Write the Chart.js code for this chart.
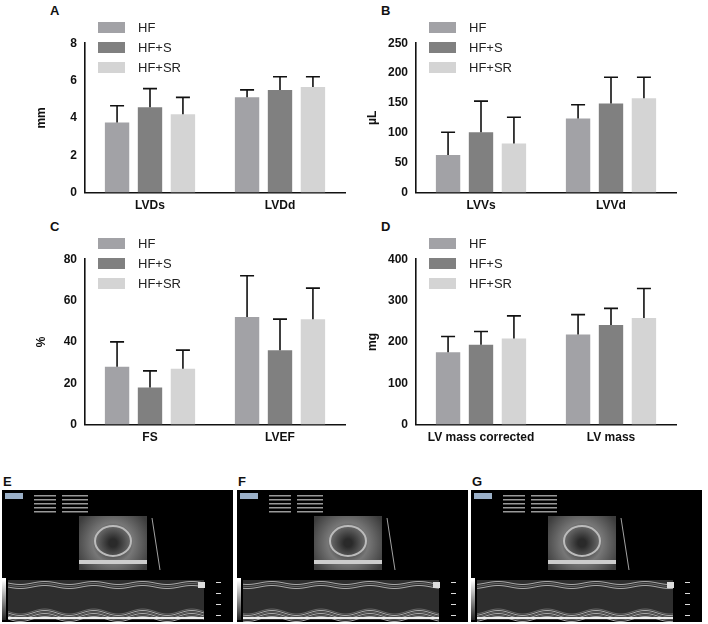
<!DOCTYPE html>
<html lang="en">
<head>
<meta charset="UTF-8" />
<title>Echo figure</title>
<script src="https://cdn.jsdelivr.net/npm/chart.js"></script>
<style>
  *{margin:0;padding:0;box-sizing:border-box}
  body{width:708px;height:624px;background:#fff;position:relative;font-family:Arial,"Liberation Sans",sans-serif;overflow:hidden}
  .panel{position:absolute}
  .tag{position:absolute;font-weight:bold;font-size:13px;color:#111}
  .leg{position:absolute;font-size:13px;color:#222}
  .leg div{display:flex;align-items:center;height:20px}
  .leg span{display:inline-block;width:27px;height:11px;margin-right:13px}
  .us{position:absolute;background:#000}
</style>
</head>
<body>
<div class="tag" style="left:50px;top:3px">A</div>
<div class="tag" style="left:381px;top:3px">B</div>
<div class="tag" style="left:50px;top:219px">C</div>
<div class="tag" style="left:381px;top:219px">D</div>
<div class="tag" style="left:3px;top:474px">E</div>
<div class="tag" style="left:238px;top:474px">F</div>
<div class="tag" style="left:472px;top:474px">G</div>

<div class="panel" style="left:30px;top:33px;width:325px;height:186px"><canvas id="cA"></canvas></div>
<div class="panel" style="left:361px;top:33px;width:325px;height:186px"><canvas id="cB"></canvas></div>
<div class="panel" style="left:30px;top:249px;width:325px;height:202px"><canvas id="cC"></canvas></div>
<div class="panel" style="left:361px;top:249px;width:325px;height:202px"><canvas id="cD"></canvas></div>

<canvas class="us" id="uE" width="231" height="132" style="left:2px;top:490px"></canvas>
<canvas class="us" id="uF" width="231" height="132" style="left:237px;top:490px"></canvas>
<canvas class="us" id="uG" width="231" height="132" style="left:471px;top:490px"></canvas>

<script>
// ---- data ----
const groups = ['HF', 'HF+S', 'HF+SR'];
const colors = ['#a2a2a6', '#808080', '#d4d4d4'];

const catsA = ['LVDs', 'LVDd'];
const meanA = [[3.75, 5.1], [4.57, 5.5], [4.2, 5.65]];
const sdA   = [[0.9, 0.4], [1.0, 0.7], [0.9, 0.55]];

const catsB = ['LVVs', 'LVVd'];
const meanB = [[63, 124], [101, 149], [82, 158]];
const sdB   = [[38, 23], [52, 44], [44, 35]];

const catsC = ['FS', 'LVEF'];
const meanC = [[28, 52], [18, 36], [27, 51]];
const sdC   = [[12, 20], [8, 15], [9, 15]];

const catsD = ['LV mass corrected', 'LV mass'];
const meanD = [[175, 218], [193, 241], [208, 258]];
const sdD   = [[38, 48], [32, 40], [55, 71]];

// error bars (upper only)
const errorBars = {
  id: 'errorBars',
  afterDatasetsDraw(chart) {
    const ctx = chart.ctx, y = chart.scales.y;
    chart.data.datasets.forEach((ds, i) => {
      chart.getDatasetMeta(i).data.forEach((bar, j) => {
        const top = y.getPixelForValue(ds.data[j] + ds.sd[j]);
        ctx.save();
        ctx.strokeStyle = '#111'; ctx.lineWidth = 1.6;
        ctx.beginPath();
        ctx.moveTo(bar.x, bar.y); ctx.lineTo(bar.x, top);
        ctx.moveTo(bar.x - 7, top); ctx.lineTo(bar.x + 7, top);
        ctx.stroke();
        ctx.restore();
      });
    });
  }
};

function makeChart(id, cats, means, sds, max, step, unit, legTop) {
  new Chart(document.getElementById(id), {
    type: 'bar',
    data: {
      labels: cats,
      datasets: groups.map((g, i) => ({
        label: g, data: means[i], sd: sds[i], backgroundColor: colors[i],
        categoryPercentage: 0.76, barPercentage: 0.74
      }))
    },
    options: {
      responsive: true, maintainAspectRatio: false, animation: false,
      layout: { padding: { top: 8, right: 10 } },
      plugins: { legend: { display: false }, tooltip: { enabled: false } },
      scales: {
        x: {
          grid: { display: false, drawTicks: false },
          border: { color: '#111', width: 1.6 },
          ticks: { color: '#111', font: { weight: 'bold', size: 12 }, padding: 6 }
        },
        y: {
          min: 0, max: max,
          grid: { display: false, drawTicks: true, tickLength: 5, tickColor: '#111', tickWidth: 1.6 },
          border: { color: '#111', width: 1.6 },
          ticks: { stepSize: step, color: '#111', font: { weight: 'bold', size: 12 } },
          title: { display: true, text: unit, color: '#111', font: { weight: 'bold', size: 12 } },
          afterFit(s) { s.width = 55; }
        }
      }
    },
    plugins: [errorBars]
  });
  // legend
  const box = document.getElementById(id).parentNode;
  const leg = document.createElement('div');
  leg.className = 'leg';
  leg.style.left = (box.offsetLeft + 68) + 'px';
  leg.style.top = (box.offsetTop + legTop) + 'px';
  groups.forEach((g, i) => {
    const d = document.createElement('div');
    d.innerHTML = '<span style="background:' + colors[i] + '"></span>' + g;
    leg.appendChild(d);
  });
  document.body.appendChild(leg);
}

makeChart('cA', catsA, meanA, sdA, 8, 2, 'mm', -16);
makeChart('cB', catsB, meanB, sdB, 250, 50, 'µL', -16);
makeChart('cC', catsC, meanC, sdC, 80, 20, '%', -16);
makeChart('cD', catsD, meanD, sdD, 400, 100, 'mg', -16);

// ultrasound-like thumbnails (decoration)
function drawUS(id, phase) {
  const c = document.getElementById(id), g = c.getContext('2d');
  g.fillStyle = '#000'; g.fillRect(0, 0, c.width, c.height);
  g.fillStyle = '#9bb0c8'; g.fillRect(3, 3, 18, 6);
  g.fillStyle = '#999';
  for (let i = 0; i < 5; i++) { g.fillRect(32, 5 + i * 4, 22, 1.5); g.fillRect(60, 5 + i * 4, 26, 1.5); }
  // B-mode square
  const bx = 77, by = 26, bw = 68, bh = 54;
  const rg = g.createRadialGradient(bx + bw / 2, by + bh / 2, 4, bx + bw / 2, by + bh / 2, 40);
  rg.addColorStop(0, '#2a2a2a'); rg.addColorStop(0.45, '#777'); rg.addColorStop(1, '#3c3c3c');
  g.fillStyle = rg; g.fillRect(bx, by, bw, bh);
  g.strokeStyle = '#bbb'; g.lineWidth = 2;
  g.beginPath(); g.ellipse(bx + bw / 2, by + bh / 2 - 2, 18, 15, 0, 0, Math.PI * 2); g.stroke();
  g.fillStyle = '#ccc'; g.fillRect(bx, by + bh - 10, bw, 4);
  g.strokeStyle = '#ccc'; g.lineWidth = 0.8;
  g.beginPath(); g.moveTo(150, 28); g.lineTo(158, 80); g.stroke();
  // M-mode strip
  const mx = 6, my = 90, mw = 196, mh = 40;
  g.fillStyle = '#2e2e2e'; g.fillRect(mx, my, mw, mh);
  const lg = g.createLinearGradient(0, my, 0, my + mh);
  lg.addColorStop(0, '#fff'); lg.addColorStop(1, '#222');
  g.fillStyle = lg; g.fillRect(0, my - 2, 4, mh + 2);
  g.lineWidth = 1;
  for (let k = 0; k < 9; k++) {
    g.strokeStyle = k % 2 ? '#666' : '#aaa';
    g.beginPath();
    for (let x = 0; x <= mw; x += 2) {
      const off = k < 3 ? 3 + k * 2 : 27 + k * 1.5;
      const amp = k < 3 ? 1.5 : 2.5;
      const yy = my + off + amp * Math.sin((x / mw) * 4 * Math.PI * 2 + phase);
      x === 0 ? g.moveTo(mx + x, yy) : g.lineTo(mx + x, yy);
    }
    g.stroke();
  }
  g.fillStyle = '#eee'; g.fillRect(mx, my + mh - 3, mw, 2);
  g.fillStyle = '#ddd';
  for (let i = 0; i < 4; i++) g.fillRect(214, my + 2 + i * 11, 5, 1);
  g.fillRect(196, my + 2, 7, 6);
}
drawUS('uE', 0); drawUS('uF', 1); drawUS('uG', 2);
</script>
</body>
</html>
